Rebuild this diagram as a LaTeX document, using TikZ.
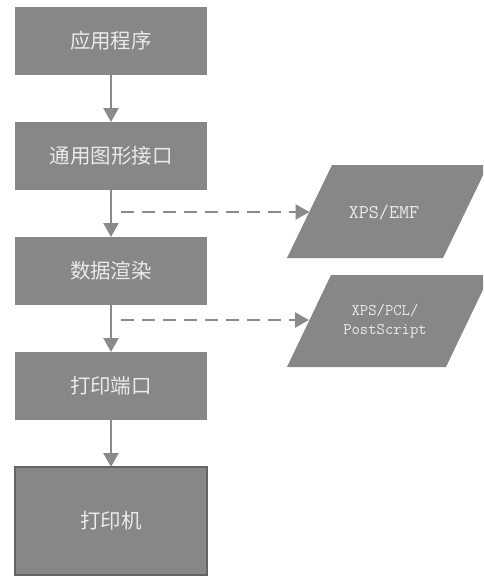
\documentclass[tikz,border=0pt]{standalone}
\usepackage{fontspec}
\newfontfamily\cjk{Noto Sans CJK SC}
\usetikzlibrary{arrows.meta,calc}

\definecolor{boxgray}{HTML}{878787}
\definecolor{linegray}{HTML}{8A8A8A}
\definecolor{textlight}{HTML}{EAEAEA}
\definecolor{edgegray}{HTML}{646464}

\tikzset{
  stage/.style={rectangle, fill=boxgray, minimum width=192pt, minimum height=68pt,
    inner sep=0pt, outer sep=0pt, text=textlight, font=\cjk\fontsize{20.5}{24}\selectfont},
  devicebox/.style={stage, minimum height=108pt, draw=edgegray, line width=1.2pt},
  formatfill/.style={fill=boxgray},
  formattext/.style={inner sep=0pt, text=textlight, align=center},
  flow/.style={draw=linegray, line width=2.4pt, -{Triangle[width=15pt,length=14pt]}},
  export/.style={draw=linegray, line width=2.6pt, dash pattern=on 13pt off 8pt,
    -{Triangle[width=15pt,length=14pt]}}
}

\begin{document}
\begin{tikzpicture}[x=1pt, y=-1pt]
  \useasboundingbox (0,0) rectangle (483,579);
  \clip (0,0) rectangle (483,579);

  % main pipeline
  \node[stage] (app)    at (111,41)  {应用程序};
  \node[stage] (gdi)    at (111,156) {通用图形接口};
  \node[stage] (render) at (111,271) {数据渲染};
  \node[stage] (port)   at (111,386) {打印端口};
  \node[devicebox] (printer) at (111,521) {打印机};

  % intermediate formats, drawn as parallelograms
  \coordinate (xpsTL) at (332,165);
  \coordinate (xpsTR) at (488,165);
  \coordinate (xpsBR) at (443,258);
  \coordinate (xpsBL) at (287,258);
  \fill[formatfill] (xpsTL) -- (xpsTR) -- (xpsBR) -- (xpsBL) -- cycle;
  \node[formattext, font=\ttfamily\fontsize{19.5}{22}\selectfont] (xps) at (384,213) {XPS/EMF};
  \coordinate (xpsIn) at ($(xpsTL)!0.5!(xpsBL)$);

  \coordinate (pdlTL) at (331,275);
  \coordinate (pdlTR) at (490,275);
  \coordinate (pdlBR) at (446,367);
  \coordinate (pdlBL) at (287,367);
  \fill[formatfill] (pdlTL) -- (pdlTR) -- (pdlBR) -- (pdlBL) -- cycle;
  \node[formattext, font=\ttfamily\fontsize{16.2}{18.5}\selectfont] (pdl) at (385,321) {XPS/PCL/\\PostScript};
  \coordinate (pdlIn) at ($(pdlTL)!0.5!(pdlBL)$);

  \coordinate (tapA) at (121,212);
  \coordinate (tapB) at (121,320);

  \draw[flow] (app) -- (gdi);
  \draw[flow] (gdi) -- (render);
  \draw[flow] (render) -- (port);
  \draw[flow] (port) -- (printer);

  \draw[export] (tapA) -- (tapA -| xpsIn);
  \draw[export] (tapB) -- (tapB -| pdlIn);
\end{tikzpicture}
\end{document}
